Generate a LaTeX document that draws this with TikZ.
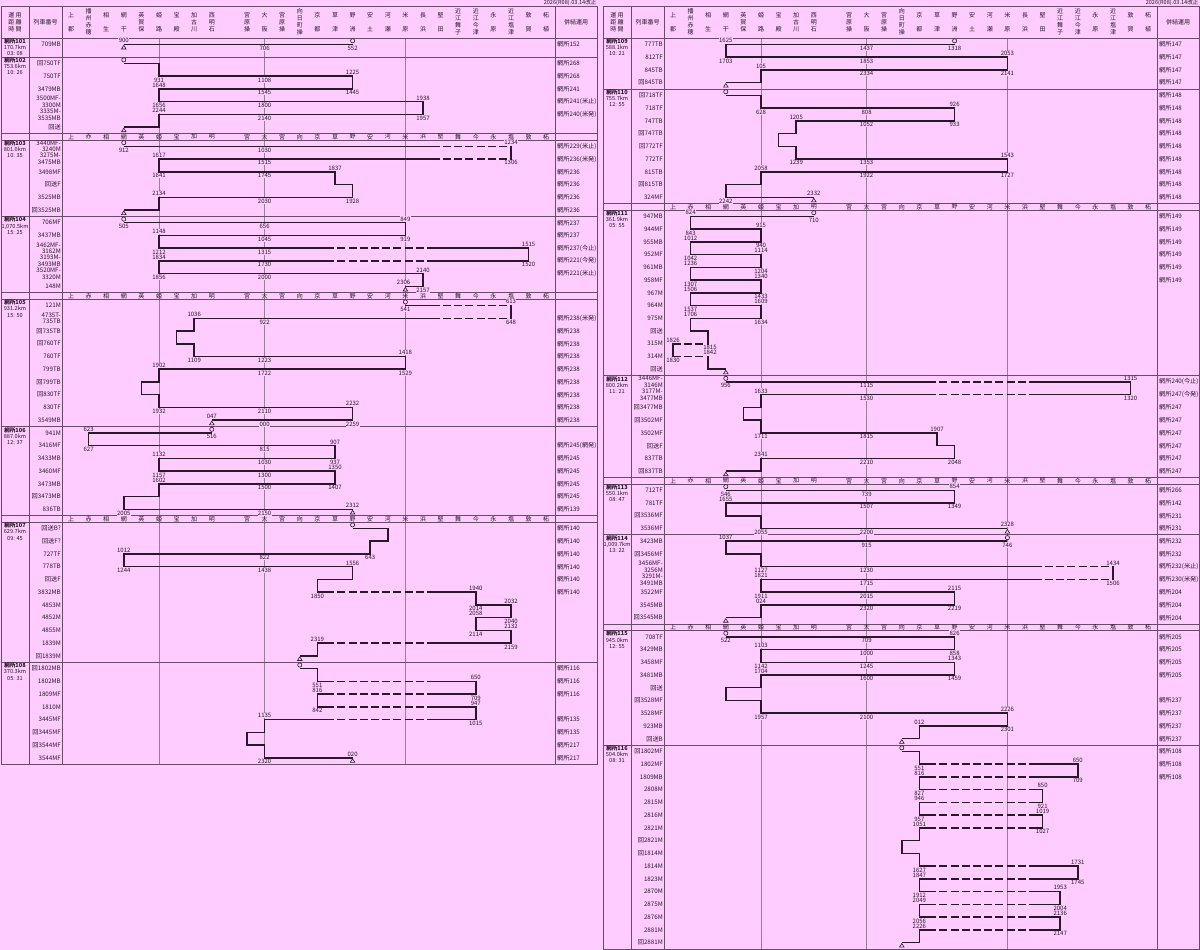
\documentclass[tikz,border=0pt]{standalone}
\usepackage{fontspec}
\setmainfont{Noto Sans CJK JP}

\definecolor{bgpink}{RGB}{255,204,255}
\definecolor{lineC}{RGB}{40,24,40}
\definecolor{frameC}{RGB}{104,76,104}
\definecolor{guideC}{RGB}{150,128,150}

\tikzset{
  runline/.style={draw=lineC, line width=1.5pt},
  gapline/.style={draw=bgpink, line width=2.4pt, dash pattern=on 3.2pt off 8pt, dash phase=3.2pt},
  endmk/.style={draw=lineC, line width=0.6pt, fill=bgpink},
  timelbl/.style={font=\fontsize{6}{6}\selectfont, text=lineC, inner sep=0.4pt, fill=bgpink},
  trainno/.style={anchor=east, align=right, font=\fontsize{6.2}{6.8}\selectfont, text=lineC, inner sep=0.5pt},
  pairlbl/.style={anchor=west, font=\fontsize{6.2}{7}\selectfont, text=lineC, inner sep=0.5pt},
  blklbl/.style={anchor=north, align=center, font=\fontsize{5.6}{6.2}\selectfont, text=lineC, inner sep=0.5pt},
  hdtxt/.style={align=center, font=\fontsize{6}{7}\selectfont, text=lineC, inner sep=0pt},
  striptxt/.style={font=\fontsize{6}{6}\selectfont, text=lineC, inner sep=0pt},
  datetxt/.style={anchor=south east, font=\fontsize{5.6}{6}\selectfont, text=lineC, inner sep=0.3pt},
  frameline/.style={draw=frameC, line width=0.8pt},
  guideline/.style={draw=guideC, line width=0.5pt},
  blockat/.style={shift={(0,#1)}, y=-12.74pt},
  trainsat/.style={xshift=71pt, x=17.6pt},
}

% 时刻标注（上 / 下）
\newcommand\tup[3]{\node[timelbl, above=1pt] at (#1,#2) {#3};}
\newcommand\tdn[3]{\node[timelbl, below=1pt] at (#1,#2) {#3};}
% 起点 ○ 与终点 △
\newcommand\mkbeg[2]{\draw[endmk] ([yshift=3.6pt]#1,#2) circle (2.1pt);}
\newcommand\mkend[2]{\draw[endmk] ([yshift=-1pt]#1,#2) -- ++(2.3pt,-3.6pt) -- ++(-4.6pt,0pt) -- cycle;}
% 虚线区间
\newcommand\dsh[3]{\draw[gapline] (#1,#3) -- (#2,#3);}

\newcommand\panelframe[2]{%
  \foreach \k in {5,11,19} \draw[guideline] (71+17.6*\k,38) -- (71+17.6*\k,#1);
  \draw[frameline] (1,6) rectangle (597,#1);
  \foreach \x in {29,62,555} \draw[frameline] (\x,6) -- (\x,#1);
  \foreach \y in {#2} \draw[frameline] (1,\y) -- (597,\y);
}

\newcommand\panelhead{%
  \node[datetxt] at (597,6) {2026(R08).03.14改正};
  \node[hdtxt] at (15,22) {運 用\\距 離\\時 間};
  \node[hdtxt] at (45.5,22) {列車番号};
  \node[hdtxt] at (576,22) {併結運用};
  \foreach \k/\nm in {0/上\\[7pt]郡, 1/播\\州\\赤\\穂, 2/相\\[7pt]生, 3/網\\[7pt]干,
      4/英\\賀\\保, 5/姫\\[7pt]路, 6/宝\\[7pt]殿, 7/加\\古\\川, 8/西\\明\\石,
      10/宮\\原\\操, 11/大\\[7pt]阪, 12/宮\\原\\操, 13/向\\日\\町\\操,
      14/京\\[7pt]都, 15/草\\[7pt]津, 16/野\\[7pt]洲, 17/安\\[7pt]土, 18/河\\[7pt]瀬,
      19/米\\[7pt]原, 20/長\\[7pt]浜, 21/堅\\[7pt]田, 22/近\\江\\舞\\子, 23/近\\江\\今\\津,
      24/永\\[7pt]原, 25/近\\江\\塩\\津, 26/敦\\[7pt]賀, 27/柘\\[7pt]植}
    \node[hdtxt] at (71+17.6*\k,22) {\nm};
}

\newcommand\stationstrip[1]{%
  \foreach \k/\sn in {0/上,1/赤,2/相,3/網,4/英,5/姫,6/宝,7/加,8/明,10/宮,11/大,12/宮,13/向,
      14/京,15/草,16/野,17/安,18/河,19/米,20/浜,21/堅,22/舞,23/今,24/永,25/塩,26/敦,27/柘}
    \node[striptxt] at (71+17.6*\k,#1) {\sn};
}

\begin{document}
\begin{tikzpicture}[x=1pt, y=-1pt]
\useasboundingbox (0,0) rectangle (1200,950);
\fill[bgpink] (0,0) rectangle (1200,950);

% ===== 左半 =====
\panelframe{764.18}{38,57.11,133.55,139.92,216.36,292.80,299.17,426.57,515.75,522.12,662.26}
\panelhead
\foreach \ys in {136.74,295.99,518.94} {\stationstrip{\ys}}

% 網所101
\begin{scope}[blockat=38]
  \node[blklbl] at (15,0) {\textbf{網所101}\\170.7km\\03: 08};
  \foreach \n [count=\rw] in {709MB} \node[trainno] at (61.5,\rw-.5) {\n};
  \foreach \n [count=\rw] in {網所152} \node[pairlbl] at (556.5,\rw-.5) {\n};
  \begin{scope}[trainsat]
    \tup{3}{.5}{900} \tdn{11}{.5}{706} \tdn{16}{.5}{552}
    \draw[runline] (16,.5) -- (3,.5);
    \mkbeg{16}{.5} \mkend{3}{.5}
  \end{scope}
\end{scope}

% 網所102
\begin{scope}[blockat=57.11]
  \node[blklbl] at (15,0) {\textbf{網所102}\\753.6km\\10: 26};
  \foreach \n [count=\rw] in {回750TF,750TF,3479MB,{3500MF-\\3300M},{3335M-\\3535MB},回送}
    \node[trainno] at (61.5,\rw-.5) {\n};
  \foreach \n [count=\rw] in {網所268,網所268,網所241,網所241(米止),網所240(米発)}
    \node[pairlbl] at (556.5,\rw-.5) {\n};
  \begin{scope}[trainsat]
    \tdn{5}{1.5}{931} \tdn{11}{1.5}{1108} \tup{16}{1.5}{1225}
    \tdn{16}{2.5}{1445} \tdn{11}{2.5}{1545} \tup{5}{2.5}{1648}
    \tdn{5}{3.5}{1656} \tdn{11}{3.5}{1800} \tup{20}{3.5}{1938}
    \tdn{20}{4.5}{1957} \tdn{11}{4.5}{2140} \tup{5}{4.5}{2244}
    \draw[runline] (3,.5) -| (5,1.5) -| (16,2.5) -| (5,3.5) -| (20,4.5) -| (5,5.5) -- (3,5.5);
    \mkbeg{3}{.5} \mkend{3}{5.5}
  \end{scope}
\end{scope}

% 網所103
\begin{scope}[blockat=139.92]
  \node[blklbl] at (15,0) {\textbf{網所103}\\801.0km\\10: 35};
  \foreach \n [count=\rw] in {{3440MF-\\3240M},{3275M-\\3475MB},3498MF,回送F,3525MB,回3525MB}
    \node[trainno] at (61.5,\rw-.5) {\n};
  \foreach \n [count=\rw] in {網所229(米止),網所236(米発),網所236,網所236,網所236,網所236}
    \node[pairlbl] at (556.5,\rw-.5) {\n};
  \begin{scope}[trainsat]
    \tdn{3}{.5}{912} \tdn{11}{.5}{1030} \tup{25}{.5}{1234}
    \tdn{25}{1.5}{1306} \tdn{11}{1.5}{1515} \tup{5}{1.5}{1617}
    \tdn{5}{2.5}{1641} \tdn{11}{2.5}{1745} \tup{15}{2.5}{1837}
    \tdn{16}{4.5}{1928} \tdn{11}{4.5}{2030} \tup{5}{4.5}{2134}
    \draw[runline] (3,.5) -| (25,1.5) -| (5,2.5) -| (15,3.5) -| (16,4.5) -| (5,5.5) -- (3,5.5);
    \dsh{20.5}{25}{.5} \dsh{20.5}{25}{1.5}
    \mkbeg{3}{.5} \mkend{3}{5.5}
  \end{scope}
\end{scope}

% 網所104
\begin{scope}[blockat=216.36]
  \node[blklbl] at (15,0) {\textbf{網所104}\\1,070.5km\\15: 25};
  \foreach \n [count=\rw] in {706MF,3437MB,{3462MF-\\3162M},{3193M-\\3493MB},{3520MF-\\3320M},148M}
    \node[trainno] at (61.5,\rw-.5) {\n};
  \foreach \n [count=\rw] in {網所237,網所237,網所237(今止),網所221(今発),網所221(米止)}
    \node[pairlbl] at (556.5,\rw-.5) {\n};
  \begin{scope}[trainsat]
    \tdn{3}{.5}{505} \tdn{11}{.5}{656} \tup{19}{.5}{849}
    \tdn{19}{1.5}{919} \tdn{11}{1.5}{1045} \tup{5}{1.5}{1148}
    \tdn{5}{2.5}{1212} \tdn{11}{2.5}{1315} \tup{26}{2.5}{1515}
    \tdn{26}{3.5}{1520} \tdn{11}{3.5}{1730} \tup{5}{3.5}{1834}
    \tdn{5}{4.5}{1856} \tdn{11}{4.5}{2000} \tup{20}{4.5}{2140}
    \tdn{20}{5.5}{2157} \tup{18.9}{5.5}{2306}
    \draw[runline] (3,.5) -| (19,1.5) -| (5,2.5) -| (26,3.5) -| (5,4.5) -| (20,5.5) -- (19,5.5);
    \dsh{14.5}{20.5}{2.5} \dsh{14.5}{20.5}{3.5}
    \mkbeg{3}{.5} \mkend{19}{5.5}
  \end{scope}
\end{scope}

% 網所105
\begin{scope}[blockat=299.17]
  \node[blklbl] at (15,0) {\textbf{網所105}\\931.2km\\15: 50};
  \foreach \n [count=\rw] in {121M,{4735T-\\735TB},回735TB,回760TF,760TF,799TB,回799TB,回830TF,830TF,3549MB}
    \node[trainno] at (61.5,\rw-.5) {\n};
  \foreach \n [count=\rw] in {{},網所238(米発),網所238,網所238,網所238,網所238,網所238,網所238,網所238,網所238}
    \node[pairlbl] at (556.5,\rw-.5) {\n};
  \begin{scope}[trainsat]
    \tdn{19}{.5}{541} \tup{25}{.5}{613}
    \tdn{25}{1.5}{648} \tdn{11}{1.5}{922} \tup{7}{1.5}{1036}
    \tdn{7}{4.5}{1109} \tdn{11}{4.5}{1223} \tup{19}{4.5}{1418}
    \tdn{19}{5.5}{1529} \tdn{11}{5.5}{1722} \tup{5}{5.5}{1902}
    \tdn{5}{8.5}{1932} \tdn{11}{8.5}{2110} \tup{16}{8.5}{2232}
    \tdn{16}{9.5}{2259} \tdn{11}{9.5}{000} \tup{8}{9.5}{047}
    \draw[runline] (19,.5) -| (25,1.5) -| (7,2.5) -| (6,3.5) -| (7,4.5) -| (19,5.5) -| (5,6.5) -| (4,7.5) -| (5,8.5) -| (16,9.5) -- (8,9.5);
    \dsh{20.5}{25}{.5} \dsh{20.5}{25}{1.5}
    \mkbeg{19}{.5} \mkend{8}{9.5}
  \end{scope}
\end{scope}

% 網所106
\begin{scope}[blockat=426.57]
  \node[blklbl] at (15,0) {\textbf{網所106}\\887.0km\\12: 37};
  \foreach \n [count=\rw] in {941M,3416MF,3433MB,3460MF,3473MB,回3473MB,836TB}
    \node[trainno] at (61.5,\rw-.5) {\n};
  \foreach \n [count=\rw] in {{},網所245(網発),網所245,網所245,網所245,網所245,網所139}
    \node[pairlbl] at (556.5,\rw-.5) {\n};
  \begin{scope}[trainsat]
    \tdn{8}{.5}{516} \tup{1}{.5}{623}
    \tdn{1}{1.5}{627} \tdn{11}{1.5}{815} \tup{15}{1.5}{907}
    \tdn{15}{2.5}{937} \tdn{11}{2.5}{1030} \tup{5}{2.5}{1132}
    \tdn{5}{3.5}{1157} \tdn{11}{3.5}{1300} \tup{15}{3.5}{1350}
    \tdn{15}{4.5}{1407} \tdn{11}{4.5}{1500} \tup{5}{4.5}{1602}
    \tdn{3}{6.5}{2005} \tdn{11}{6.5}{2150} \tup{16}{6.5}{2312}
    \draw[runline] (8,.5) -| (1,1.5) -| (15,2.5) -| (5,3.5) -| (15,4.5) -| (5,5.5) -| (3,6.5) -- (16,6.5);
    \mkbeg{8}{.5} \mkend{16}{6.5}
  \end{scope}
\end{scope}

% 網所107
\begin{scope}[blockat=522.12]
  \node[blklbl] at (15,0) {\textbf{網所107}\\629.7km\\09: 45};
  \foreach \n [count=\rw] in {回送B?,回送F?,727TF,778TB,回送F,3832MB,4853M,4852M,4855M,1839M,回1839M}
    \node[trainno] at (61.5,\rw-.5) {\n};
  \foreach \n [count=\rw] in {網所140,網所140,網所140,網所140,網所140,網所140}
    \node[pairlbl] at (556.5,\rw-.5) {\n};
  \begin{scope}[trainsat]
    \tdn{17}{2.5}{643} \tdn{11}{2.5}{822} \tup{3}{2.5}{1012}
    \tdn{3}{3.5}{1244} \tdn{11}{3.5}{1438} \tup{16}{3.5}{1556}
    \tdn{14}{5.5}{1850} \tup{23}{5.5}{1940}
    \tdn{23}{6.5}{2014} \tup{25}{6.5}{2032}
    \tdn{25}{7.5}{2040} \tup{23}{7.5}{2058}
    \tdn{23}{8.5}{2114} \tup{25}{8.5}{2132}
    \tdn{25}{9.5}{2159} \tup{14}{9.5}{2319}
    \draw[runline] (16,.5) -| (18,1.5) -| (17,2.5) -| (3,3.5) -| (16,4.5) -| (14,5.5) -| (23,6.5) -| (25,7.5) -| (23,8.5) -| (25,9.5) -| (14,10.5) -- (13,10.5);
    \dsh{14.5}{20.5}{5.5} \dsh{14.5}{20.5}{9.5}
    \mkbeg{16}{.5} \mkend{13}{10.5}
  \end{scope}
\end{scope}

% 網所108
\begin{scope}[blockat=662.26]
  \node[blklbl] at (15,0) {\textbf{網所108}\\370.3km\\05: 31};
  \foreach \n [count=\rw] in {回1802MB,1802MB,1809MF,1810M,3445MF,回3445MF,回3544MF,3544MF}
    \node[trainno] at (61.5,\rw-.5) {\n};
  \foreach \n [count=\rw] in {網所116,網所116,網所116,{},網所135,網所135,網所217,網所217}
    \node[pairlbl] at (556.5,\rw-.5) {\n};
  \begin{scope}[trainsat]
    \tdn{14}{1.5}{551} \tup{23}{1.5}{650}
    \tdn{23}{2.5}{709} \tup{14}{2.5}{816}
    \tdn{14}{3.5}{842} \tup{23}{3.5}{947}
    \tdn{23}{4.5}{1015} \tup{11}{4.5}{1135}
    \tdn{11}{7.5}{2320} \tup{16}{7.5}{020}
    \draw[runline] (13,.5) -| (14,1.5) -| (23,2.5) -| (14,3.5) -| (23,4.5) -| (11,5.5) -| (10,6.5) -| (11,7.5) -- (16,7.5);
    \foreach \rr in {1.5,2.5,3.5,4.5} {\dsh{14.5}{20.5}{\rr}}
    \mkbeg{13}{.5} \mkend{16}{7.5}
  \end{scope}
\end{scope}

% ===== 右半 =====
\begin{scope}[xshift=602pt]
\panelframe{948.91}{38,88.96,203.62,209.99,375.61,477.53,483.90,534.86,624.04,630.41,745.07}
\panelhead
\foreach \ys in {206.81,480.72,627.23} {\stationstrip{\ys}}

% 網所109
\begin{scope}[blockat=38]
  \node[blklbl] at (15,0) {\textbf{網所109}\\588.1km\\10: 21};
  \foreach \n [count=\rw] in {777TB,812TF,845TB,回845TB}
    \node[trainno] at (61.5,\rw-.5) {\n};
  \foreach \n [count=\rw] in {網所147,網所147,網所147,網所147}
    \node[pairlbl] at (556.5,\rw-.5) {\n};
  \begin{scope}[trainsat]
    \tdn{16}{.5}{1318} \tdn{11}{.5}{1437} \tup{3}{.5}{1625}
    \tdn{3}{1.5}{1703} \tdn{11}{1.5}{1853} \tup{19}{1.5}{2053}
    \tdn{19}{2.5}{2141} \tdn{11}{2.5}{2334} \tup{5}{2.5}{105}
    \draw[runline] (16,.5) -| (3,1.5) -| (19,2.5) -| (5,3.5) -- (3,3.5);
    \mkbeg{16}{.5} \mkend{3}{3.5}
  \end{scope}
\end{scope}

% 網所110
\begin{scope}[blockat=88.96]
  \node[blklbl] at (15,0) {\textbf{網所110}\\755.7km\\12: 55};
  \foreach \n [count=\rw] in {回718TF,718TF,747TB,回747TB,回772TF,772TF,815TB,回815TB,324MF}
    \node[trainno] at (61.5,\rw-.5) {\n};
  \foreach \rw in {1,...,9} \node[pairlbl] at (556.5,\rw-.5) {網所148};
  \begin{scope}[trainsat]
    \tdn{5}{1.5}{628} \tdn{11}{1.5}{808} \tup{16}{1.5}{926}
    \tdn{16}{2.5}{933} \tdn{11}{2.5}{1052} \tup{7}{2.5}{1205}
    \tdn{7}{5.5}{1239} \tdn{11}{5.5}{1353} \tup{19}{5.5}{1543}
    \tdn{19}{6.5}{1727} \tdn{11}{6.5}{1922} \tup{5}{6.5}{2058}
    \tdn{3}{8.5}{2242} \tup{8}{8.5}{2332}
    \draw[runline] (3,.5) -| (5,1.5) -| (16,2.5) -| (7,3.5) -| (6,4.5) -| (7,5.5) -| (19,6.5) -| (5,7.5) -| (3,8.5) -- (8,8.5);
    \mkbeg{3}{.5} \mkend{8}{8.5}
  \end{scope}
\end{scope}

% 網所111
\begin{scope}[blockat=209.99]
  \node[blklbl] at (15,0) {\textbf{網所111}\\361.9km\\05: 55};
  \foreach \n [count=\rw] in {947MB,944MF,955MB,952MF,961MB,958MF,967M,964M,975M,回送,315M,314M,回送}
    \node[trainno] at (61.5,\rw-.5) {\n};
  \foreach \rw in {1,...,6} \node[pairlbl] at (556.5,\rw-.5) {網所149};
  \begin{scope}[trainsat]
    \tdn{8}{.5}{710} \tup{1}{.5}{824}
    \tdn{1}{1.5}{843} \tup{5}{1.5}{915}
    \tdn{5}{2.5}{940} \tup{1}{2.5}{1012}
    \tdn{1}{3.5}{1042} \tup{5}{3.5}{1114}
    \tdn{5}{4.5}{1204} \tup{1}{4.5}{1236}
    \tdn{1}{5.5}{1307} \tup{5}{5.5}{1340}
    \tdn{5}{6.5}{1433} \tup{1}{6.5}{1506}
    \tdn{1}{7.5}{1537} \tup{5}{7.5}{1609}
    \tdn{5}{8.5}{1634} \tup{1}{8.5}{1706}
    \tdn{2.1}{10.5}{1815} \tup{0}{10.5}{1826}
    \tdn{0}{11.5}{1830} \tup{2.1}{11.5}{1842}
    \draw[runline] (8,.5) -| (1,1.5) -| (5,2.5) -| (1,3.5) -| (5,4.5) -| (1,5.5) -| (5,6.5) -| (1,7.5) -| (5,8.5) -| (1,9.5) -| (2,10.5) -| (0,11.5) -| (2,12.5) -- (3,12.5);
    \dsh{0}{2}{10.5} \dsh{0}{2}{11.5}
    \mkbeg{8}{.5} \mkend{3}{12.5}
  \end{scope}
\end{scope}

% 網所112
\begin{scope}[blockat=375.61]
  \node[blklbl] at (15,0) {\textbf{網所112}\\800.2km\\11: 21};
  \foreach \n [count=\rw] in {{3446MF-\\3146M},{3177M-\\3477MB},回3477MB,回3502MF,3502MF,回送F,837TB,回837TB}
    \node[trainno] at (61.5,\rw-.5) {\n};
  \foreach \n [count=\rw] in {網所240(今止),網所247(今発),網所247,網所247,網所247,網所247,網所247,網所247}
    \node[pairlbl] at (556.5,\rw-.5) {\n};
  \begin{scope}[trainsat]
    \tdn{3}{.5}{956} \tdn{11}{.5}{1115} \tup{26}{.5}{1315}
    \tdn{26}{1.5}{1320} \tdn{11}{1.5}{1530} \tup{5}{1.5}{1633}
    \tdn{5}{4.5}{1711} \tdn{11}{4.5}{1815} \tup{15}{4.5}{1907}
    \tdn{16}{6.5}{2048} \tdn{11}{6.5}{2210} \tup{5}{6.5}{2341}
    \draw[runline] (3,.5) -| (26,1.5) -| (5,2.5) -| (4,3.5) -| (5,4.5) -| (15,5.5) -| (16,6.5) -| (5,7.5) -- (3,7.5);
    \dsh{14.5}{20.5}{.5} \dsh{14.5}{20.5}{1.5}
    \mkbeg{3}{.5} \mkend{3}{7.5}
  \end{scope}
\end{scope}

% 網所113
\begin{scope}[blockat=483.90]
  \node[blklbl] at (15,0) {\textbf{網所113}\\550.1km\\08: 47};
  \foreach \n [count=\rw] in {712TF,781TF,回3536MF,3536MF}
    \node[trainno] at (61.5,\rw-.5) {\n};
  \foreach \n [count=\rw] in {網所266,網所142,網所231,網所231}
    \node[pairlbl] at (556.5,\rw-.5) {\n};
  \begin{scope}[trainsat]
    \tdn{3}{.5}{546} \tdn{11}{.5}{739} \tup{16}{.5}{854}
    \tdn{16}{1.5}{1349} \tdn{11}{1.5}{1507} \tup{3}{1.5}{1655}
    \tdn{5}{3.5}{2055} \tdn{11}{3.5}{2200} \tup{19}{3.5}{2328}
    \draw[runline] (3,.5) -| (16,1.5) -| (3,2.5) -| (5,3.5) -- (19,3.5);
    \mkbeg{3}{.5} \mkend{19}{3.5}
  \end{scope}
\end{scope}

% 網所114
\begin{scope}[blockat=534.86]
  \node[blklbl] at (15,0) {\textbf{網所114}\\1,009.7km\\13: 22};
  \foreach \n [count=\rw] in {3423MB,回3456MF,{3456MF-\\3256M},{3291M-\\3491MB},3522MF,3545MB,回3545MB}
    \node[trainno] at (61.5,\rw-.5) {\n};
  \foreach \n [count=\rw] in {網所232,網所232,網所232(米止),網所230(米発),網所204,網所204,網所204}
    \node[pairlbl] at (556.5,\rw-.5) {\n};
  \begin{scope}[trainsat]
    \tdn{19}{.5}{746} \tdn{11}{.5}{915} \tup{3}{.5}{1037}
    \tdn{5}{2.5}{1127} \tdn{11}{2.5}{1230} \tup{25}{2.5}{1434}
    \tdn{25}{3.5}{1506} \tdn{11}{3.5}{1715} \tup{5}{3.5}{1821}
    \tdn{5}{4.5}{1911} \tdn{11}{4.5}{2015} \tup{16}{4.5}{2115}
    \tdn{16}{5.5}{2219} \tdn{11}{5.5}{2320} \tup{5}{5.5}{024}
    \draw[runline] (19,.5) -| (3,1.5) -| (5,2.5) -| (25,3.5) -| (5,4.5) -| (16,5.5) -| (5,6.5) -- (3,6.5);
    \dsh{20.5}{25}{2.5} \dsh{20.5}{25}{3.5}
    \mkbeg{19}{.5} \mkend{3}{6.5}
  \end{scope}
\end{scope}

% 網所115
\begin{scope}[blockat=630.41]
  \node[blklbl] at (15,0) {\textbf{網所115}\\945.0km\\12: 55};
  \foreach \n [count=\rw] in {708TF,3429MB,3458MF,3481MB,回送,回3528MF,3528MF,923MB,回送B}
    \node[trainno] at (61.5,\rw-.5) {\n};
  \foreach \n [count=\rw] in {網所205,網所205,網所205,網所205,{},網所237,網所237,網所237,網所237}
    \node[pairlbl] at (556.5,\rw-.5) {\n};
  \begin{scope}[trainsat]
    \tdn{3}{.5}{522} \tdn{11}{.5}{709} \tup{16}{.5}{826}
    \tdn{16}{1.5}{858} \tdn{11}{1.5}{1000} \tup{5}{1.5}{1103}
    \tdn{5}{2.5}{1142} \tdn{11}{2.5}{1245} \tup{16}{2.5}{1343}
    \tdn{16}{3.5}{1459} \tdn{11}{3.5}{1600} \tup{5}{3.5}{1704}
    \tdn{5}{6.5}{1957} \tdn{11}{6.5}{2100} \tup{19}{6.5}{2226}
    \tdn{19}{7.5}{2301} \tup{14}{7.5}{012}
    \draw[runline] (3,.5) -| (16,1.5) -| (5,2.5) -| (16,3.5) -| (5,4.5) -| (3,5.5) -| (5,6.5) -| (19,7.5) -| (14,8.5) -- (13,8.5);
    \mkbeg{3}{.5} \mkend{13}{8.5}
  \end{scope}
\end{scope}

% 網所116
\begin{scope}[blockat=745.07]
  \node[blklbl] at (15,0) {\textbf{網所116}\\504.0km\\08: 31};
  \foreach \n [count=\rw] in {回1802MF,1802MF,1809MB,2808M,2815M,2816M,2821M,回2821M,回1814M,1814M,1823M,2870M,2875M,2876M,2881M,回2881M}
    \node[trainno] at (61.5,\rw-.5) {\n};
  \foreach \rw in {1,2,3} \node[pairlbl] at (556.5,\rw-.5) {網所108};
  \begin{scope}[trainsat]
    \tdn{14}{1.5}{551} \tup{23}{1.5}{650}
    \tdn{23}{2.5}{709} \tup{14}{2.5}{816}
    \tdn{14}{3.5}{827} \tup{21}{3.5}{850}
    \tdn{21}{4.5}{921} \tup{14}{4.5}{946}
    \tdn{14}{5.5}{957} \tup{21}{5.5}{1019}
    \tdn{21}{6.5}{1027} \tup{14}{6.5}{1051}
    \tdn{14}{9.5}{1627} \tup{23}{9.5}{1731}
    \tdn{23}{10.5}{1745} \tup{14}{10.5}{1847}
    \tdn{14}{11.5}{1912} \tup{22}{11.5}{1953}
    \tdn{22}{12.5}{2004} \tup{14}{12.5}{2049}
    \tdn{14}{13.5}{2056} \tup{22}{13.5}{2136}
    \tdn{22}{14.5}{2147} \tup{14}{14.5}{2226}
    \draw[runline] (13,.5) -| (14,1.5) -| (23,2.5) -| (14,3.5) -| (21,4.5) -| (14,5.5) -| (21,6.5) -| (14,7.5) -| (13,8.5) -| (14,9.5) -| (23,10.5) -| (14,11.5) -| (22,12.5) -| (14,13.5) -| (22,14.5) -| (14,15.5) -- (13,15.5);
    \foreach \rr in {1.5,2.5,3.5,4.5,5.5,6.5,9.5,10.5,11.5,12.5,13.5,14.5} {\dsh{14.5}{20.5}{\rr}}
    \mkbeg{13}{.5} \mkend{13}{15.5}
  \end{scope}
\end{scope}
\end{scope}

\end{tikzpicture}
\end{document}
